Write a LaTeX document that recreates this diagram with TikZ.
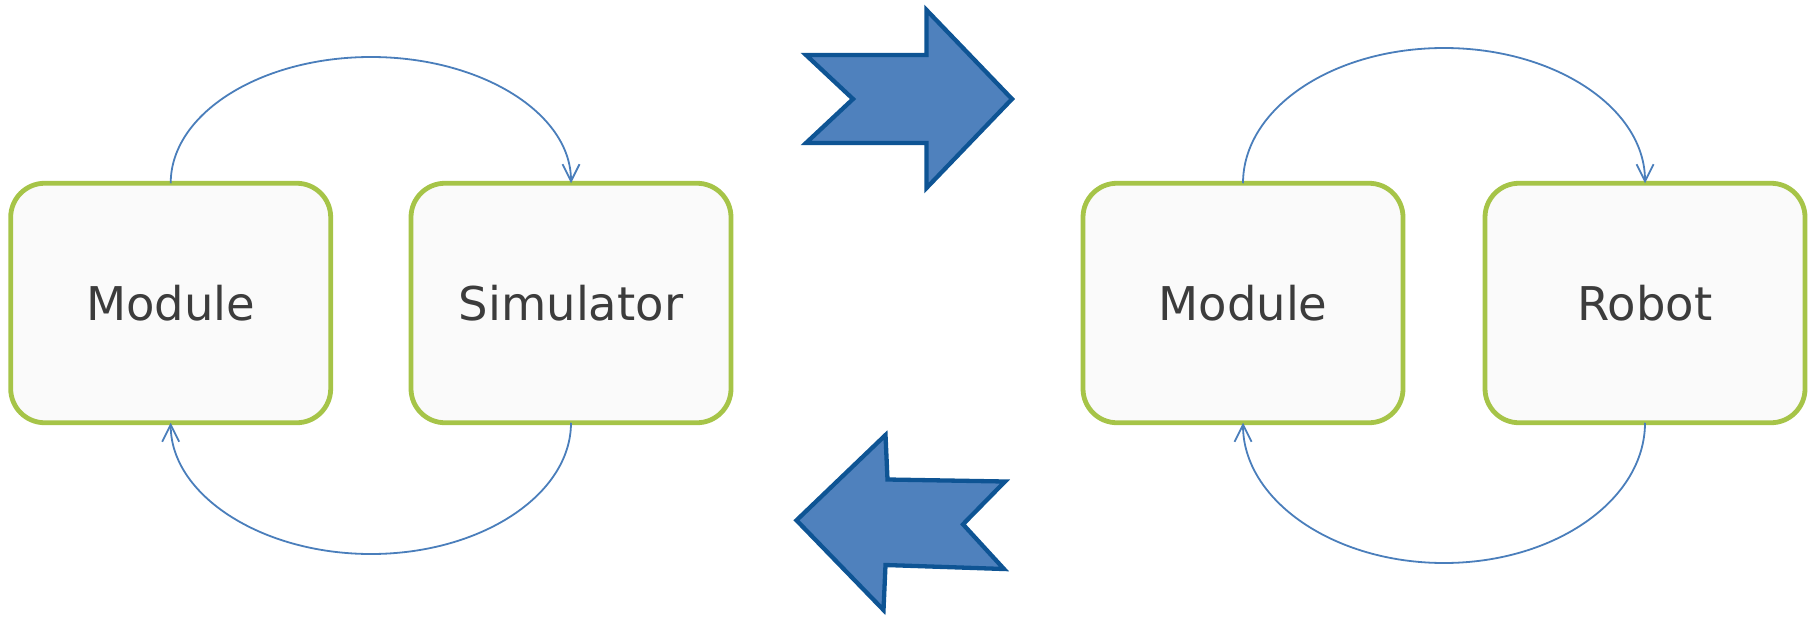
\documentclass[tikz,border=0pt]{standalone}
\usepackage{fontspec}
\setmainfont{DejaVu Sans}
\usetikzlibrary{arrows.meta}
\definecolor{boxgreen}{RGB}{166,196,72}
\definecolor{boxfill}{RGB}{250,250,250}
\definecolor{conncol}{RGB}{74,126,187}
\definecolor{arrfill}{RGB}{79,129,189}
\definecolor{arrline}{RGB}{14,84,148}
\definecolor{txtcol}{RGB}{60,60,60}
\begin{document}
\begin{tikzpicture}[x=1pt,y=-1pt,
  blk/.style={draw=boxgreen, line width=4.8pt, fill=boxfill, rounded corners=34pt,
    minimum width=320pt, minimum height=239.5pt, inner sep=0pt, outer sep=0pt,
    text=txtcol, font=\fontsize{46.5pt}{56pt}\selectfont},
  link/.style={draw=conncol, line width=1.8pt,
    -{Straight Barb[length=17pt,width=17pt,line width=1.8pt]}},
  bigarrow/.style={draw=arrline, fill=arrfill, line width=4.3pt, line join=miter}]
\useasboundingbox (0,0) rectangle (1811,616);

\node[blk] (m1) at (170.7,303) {Module};
\node[blk] (sim) at (571,303) {Simulator};
\node[blk] (m2) at (1243,303) {Module};
\node[blk] (rob) at (1645,303) {Robot};

\coordinate (t1) at (371,57);
\coordinate (b1) at (371,554);
\coordinate (t2) at (1444,48);
\coordinate (b2) at (1444,563);

\draw[link] (m1.north) .. controls +(0,-70) and +(-110,0) .. (t1)
  .. controls +(110,0) and +(0,-70) .. (sim.north);
\draw[link] (sim.south) .. controls +(0,72) and +(110,0) .. (b1)
  .. controls +(-110,0) and +(0,72) .. (m1.south);
\draw[link] (m2.north) .. controls +(0,-75) and +(-111,0) .. (t2)
  .. controls +(111,0) and +(0,-75) .. (rob.north);
\draw[link] (rob.south) .. controls +(0,77) and +(111,0) .. (b2)
  .. controls +(-111,0) and +(0,77) .. (m2.south);

\draw[bigarrow] (806,55) -- (853,99) -- (806,143) -- (926.5,143) -- (926.5,188)
  -- (1012,99) -- (926.5,10) -- (926.5,55) -- cycle;
\draw[bigarrow] (796.5,520.3) -- (885.5,435) -- (887.5,479.5) -- (1005,481.5)
  -- (963,524.3) -- (1004,569) -- (885.5,565) -- (883.5,610) -- cycle;
\end{tikzpicture}
\end{document}
